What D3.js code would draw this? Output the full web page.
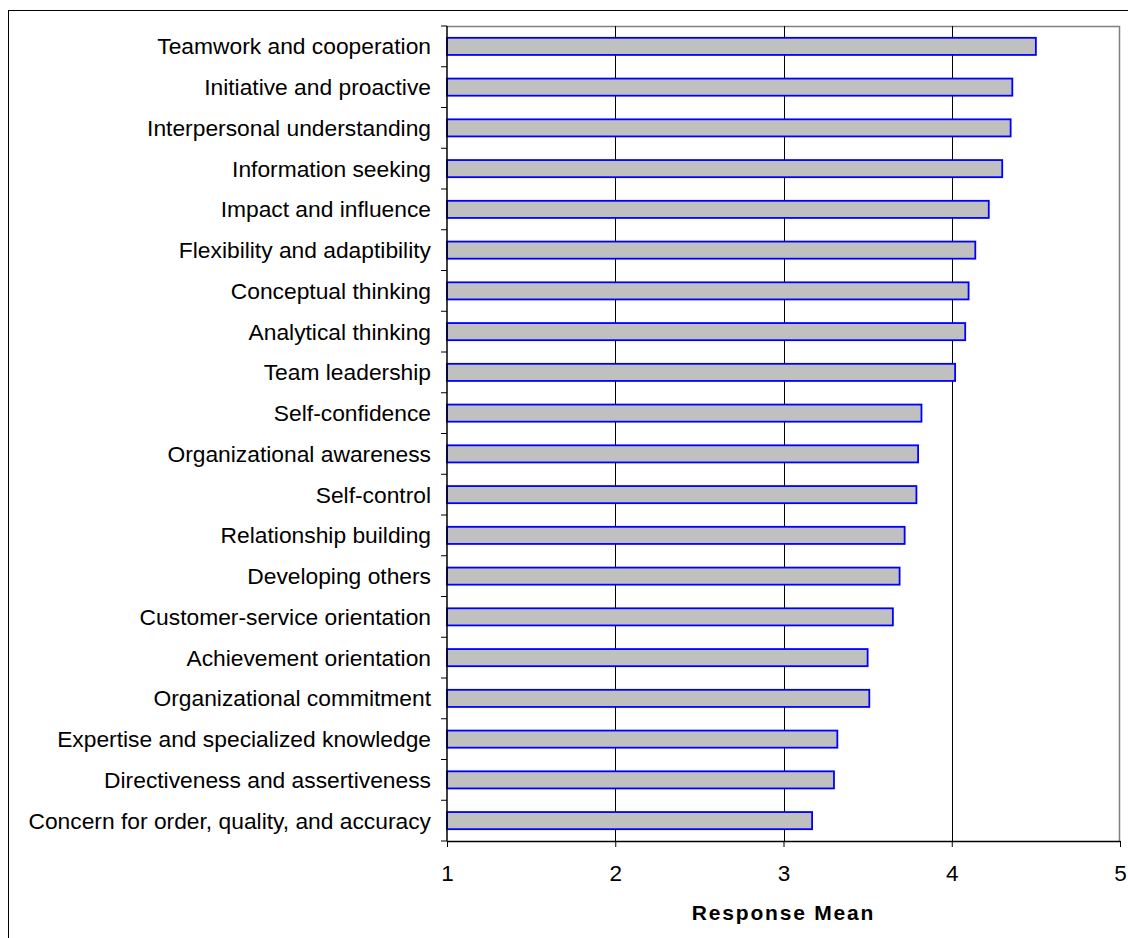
<!DOCTYPE html>
<html>
<head>
<meta charset="utf-8">
<script src="https://cdn.jsdelivr.net/npm/d3@7"></script>
<style>
  body { margin: 0; background: #fff; }
  svg { display: block; font-family: "Liberation Sans", Arial, sans-serif; }
</style>
</head>
<body>
<div class="chart"></div>
<script>
const categories = [
  'Teamwork and cooperation',
  'Initiative and proactive',
  'Interpersonal understanding',
  'Information seeking',
  'Impact and influence',
  'Flexibility and adaptibility',
  'Conceptual thinking',
  'Analytical thinking',
  'Team leadership',
  'Self-confidence',
  'Organizational awareness',
  'Self-control',
  'Relationship building',
  'Developing others',
  'Customer-service orientation',
  'Achievement orientation',
  'Organizational commitment',
  'Expertise and specialized knowledge',
  'Directiveness and assertiveness',
  'Concern for order, quality, and accuracy'
];
const values = [4.50, 4.36, 4.35, 4.30, 4.22, 4.14, 4.10, 4.08, 4.02, 3.82,
                3.80, 3.79, 3.72, 3.69, 3.65, 3.50, 3.51, 3.32, 3.30, 3.17];
const xTicks = [1, 2, 3, 4, 5];
const xTitle = 'Response Mean';

const data = categories.map((c, i) => ({ name: c, value: values[i] }));

const width = 1128, height = 938;
const margin = { top: 26, right: 8, bottom: 97, left: 447 };

const svg = d3.select('.chart')
  .append('svg')
    .attr('width', width)
    .attr('height', height);

// outer chart border
svg.append('rect')
  .attr('x', 8.5).attr('y', 10.5)
  .attr('width', 1140).attr('height', 950)
  .attr('fill', 'none').attr('stroke', '#000').attr('stroke-width', 1);

const x = d3.scaleLinear()
  .domain([1, 5])
  .range([margin.left, width - margin.right]);

const y = d3.scaleBand()
  .domain(categories)
  .range([margin.top, height - margin.bottom])
  .paddingInner(0.58)
  .paddingOuter(0.29);

const yOuter = d3.scaleBand()
  .domain(categories)
  .range([margin.top, height - margin.bottom]);

// plot area border (top & right, gray)
svg.append('path')
  .attr('d', `M${x(1)},${margin.top + 0.5}H${x(5) - 0.5}V${height - margin.bottom}`)
  .attr('fill', 'none').attr('stroke', '#808080').attr('stroke-width', 1.5);

// gridlines
svg.append('g')
  .selectAll('line')
  .data(xTicks.slice(1, -1))
  .join('line')
    .attr('x1', d => Math.round(x(d)) + 0.5)
    .attr('x2', d => Math.round(x(d)) + 0.5)
    .attr('y1', margin.top)
    .attr('y2', height - margin.bottom)
    .attr('stroke', '#000');

// bars
svg.append('g')
  .selectAll('rect')
  .data(data)
  .join('rect')
    .attr('x', x(1))
    .attr('y', d => y(d.name))
    .attr('width', d => x(d.value) - x(1))
    .attr('height', y.bandwidth())
    .attr('fill', '#c0c0c0')
    .attr('stroke', '#0000ff')
    .attr('stroke-width', 1.8);

// x axis
const xAxis = svg.append('g')
  .attr('transform', `translate(0, ${height - margin.bottom})`)
  .call(d3.axisBottom(x).tickValues(xTicks).tickFormat(d3.format('d')).tickSize(6).tickSizeOuter(0).tickPadding(18));
xAxis.select('.domain').attr('stroke', '#000').attr('stroke-width', 1.5);
xAxis.selectAll('.tick line').attr('stroke', '#000');
xAxis.selectAll('.tick text')
  .attr('font-size', '22.5px')
  .attr('font-family', '"Liberation Sans", Arial, sans-serif')
  .attr('fill', '#000');

// y axis: ticks at category boundaries
const yAxisG = svg.append('g')
  .attr('transform', `translate(${x(1)}, 0)`);
yAxisG.append('line')
  .attr('x1', 0).attr('x2', 0)
  .attr('y1', margin.top).attr('y2', height - margin.bottom)
  .attr('stroke', '#000').attr('stroke-width', 1.5);
yAxisG.selectAll('.bt')
  .data(categories.map(c => yOuter(c)).concat([height - margin.bottom]))
  .join('line')
    .attr('class', 'bt')
    .attr('x1', -6).attr('x2', 0)
    .attr('y1', d => d).attr('y2', d => d)
    .attr('stroke', '#000');
yAxisG.selectAll('text')
  .data(categories)
  .join('text')
    .attr('x', -16)
    .attr('y', d => y(d) + y.bandwidth() / 2)
    .attr('dy', '0.35em')
    .attr('text-anchor', 'end')
    .attr('font-size', '22.8px')
    .attr('fill', '#000')
    .text(d => d);

// x axis title
svg.append('text')
  .attr('x', (x(1) + x(5)) / 2)
  .attr('y', 920)
  .attr('text-anchor', 'middle')
  .attr('font-size', '21px')
  .attr('font-weight', 'bold')
  .attr('letter-spacing', '1.8px')
  .text(xTitle);
</script>
</body>
</html>
